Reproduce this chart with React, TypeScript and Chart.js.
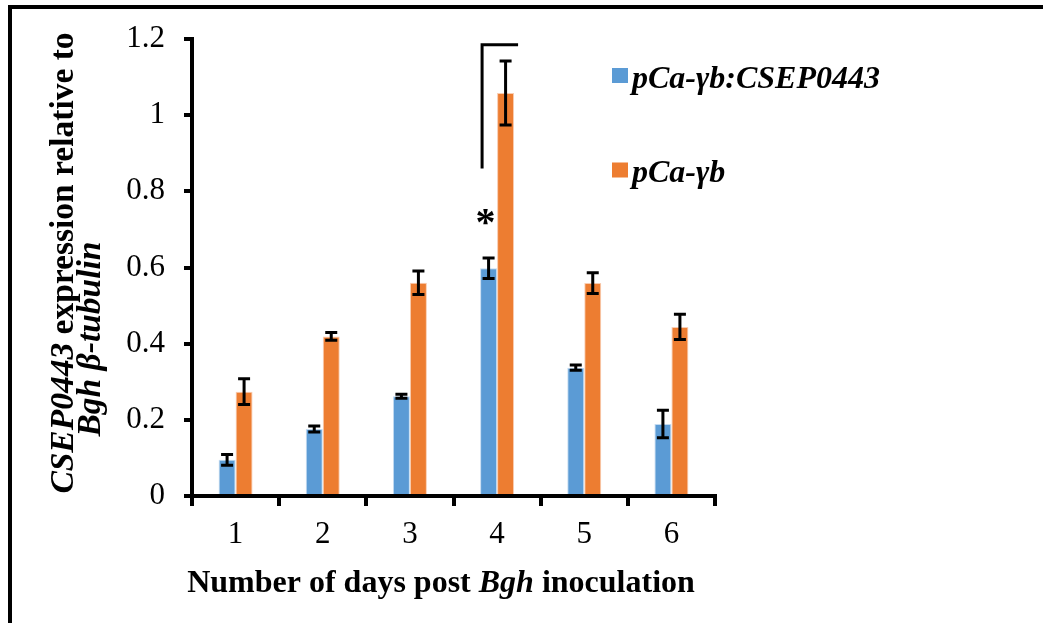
import { useEffect, useRef } from 'react';
import { Chart, registerables } from 'chart.js';

Chart.register(...registerables);

const categories = ['1', '2', '3', '4', '5', '6'];
const seriesNames = ['pCa-γb:CSEP0443', 'pCa-γb'];
const csepValues = [0.095, 0.176, 0.262, 0.598, 0.337, 0.189];
const csepErrors = [0.014, 0.008, 0.005, 0.027, 0.007, 0.036];
const controlValues = [0.274, 0.419, 0.56, 1.058, 0.559, 0.444];
const controlErrors = [0.034, 0.01, 0.031, 0.084, 0.027, 0.033];
const yTicks = [0, 0.2, 0.4, 0.6, 0.8, 1, 1.2];
const bracketRange = [0.86, 1.185];
const starValue = 0.732;

const SERIF = '"Liberation Serif", "Times New Roman", serif';
const BLUE = '#5B9BD5';
const ORANGE = '#ED7D31';

type Seg = { text: string; font: string };

function drawSegments(ctx: CanvasRenderingContext2D, segs: Seg[], cx: number, baseline: number) {
  let total = 0;
  const widths = segs.map((s) => {
    ctx.font = s.font;
    const w = ctx.measureText(s.text).width;
    total += w;
    return w;
  });
  let x = cx - total / 2;
  ctx.textAlign = 'left';
  ctx.textBaseline = 'alphabetic';
  segs.forEach((s, i) => {
    ctx.font = s.font;
    ctx.fillText(s.text, x, baseline);
    x += widths[i];
  });
}

const decorPlugin = {
  id: 'decor',
  beforeDraw(chart: any) {
    const ctx = chart.ctx as CanvasRenderingContext2D;
    ctx.save();
    ctx.fillStyle = '#fff';
    ctx.fillRect(0, 0, chart.width, chart.height);
    ctx.restore();
  },
  afterDatasetsDraw(chart: any) {
    const ctx = chart.ctx as CanvasRenderingContext2D;
    const yScale = chart.scales.y;
    const errs = [csepErrors, controlErrors];
    ctx.save();
    ctx.strokeStyle = '#000';
    ctx.lineWidth = 3;
    ctx.lineCap = 'butt';
    chart.data.datasets.forEach((ds: any, di: number) => {
      const meta = chart.getDatasetMeta(di);
      meta.data.forEach((bar: any, i: number) => {
        const v = ds.data[i];
        const e = errs[di][i];
        const yt = yScale.getPixelForValue(v + e);
        const yb = yScale.getPixelForValue(v - e);
        const x = bar.x;
        ctx.beginPath();
        ctx.moveTo(x, yt);
        ctx.lineTo(x, yb);
        ctx.moveTo(x - 6, yt);
        ctx.lineTo(x + 6, yt);
        ctx.moveTo(x - 6, yb);
        ctx.lineTo(x + 6, yb);
        ctx.stroke();
      });
    });

    // significance bracket on day 4
    const b0 = chart.getDatasetMeta(0).data[3];
    const b1 = chart.getDatasetMeta(1).data[3];
    const xl = b0.x - b0.width / 2 + 2;
    const xr = b1.x + b1.width / 2 + 4;
    const yTop = yScale.getPixelForValue(bracketRange[1]);
    const yBot = yScale.getPixelForValue(bracketRange[0]);
    ctx.lineWidth = 3;
    ctx.beginPath();
    ctx.moveTo(xl, yBot);
    ctx.lineTo(xl, yTop);
    ctx.lineTo(xr, yTop);
    ctx.stroke();

    // asterisk
    ctx.fillStyle = '#000';
    ctx.font = `bold 40px ${SERIF}`;
    const m = ctx.measureText('*');
    const cy = yScale.getPixelForValue(starValue);
    ctx.textAlign = 'center';
    ctx.textBaseline = 'alphabetic';
    ctx.fillText('*', b0.x - 3, cy + (m.actualBoundingBoxAscent - m.actualBoundingBoxDescent) / 2);
    ctx.restore();
  },
  afterDraw(chart: any) {
    const ctx = chart.ctx as CanvasRenderingContext2D;
    ctx.save();
    // frame
    ctx.strokeStyle = '#000';
    ctx.lineWidth = 4;
    ctx.beginPath();
    ctx.moveTo(10, 623);
    ctx.lineTo(10, 7);
    ctx.lineTo(1043, 7);
    ctx.stroke();

    ctx.fillStyle = '#000';
    // legend
    const colors = [BLUE, ORANGE];
    const rows = [75.5, 170];
    seriesNames.forEach((name, i) => {
      ctx.fillStyle = colors[i];
      ctx.fillRect(612, rows[i] - 7.5, 16, 15);
      ctx.fillStyle = '#000';
      ctx.font = `italic bold 32px ${SERIF}`;
      ctx.textAlign = 'left';
      ctx.textBaseline = 'alphabetic';
      ctx.fillText(name, 632, rows[i] + 12);
    });

    // x title
    const b = `bold 32px ${SERIF}`;
    const bi = `italic bold 32px ${SERIF}`;
    drawSegments(
      ctx,
      [
        { text: 'Number of days post ', font: b },
        { text: 'Bgh', font: bi },
        { text: ' inoculation', font: b },
      ],
      441,
      592
    );

    // y title
    const yb = `bold 33.5px ${SERIF}`;
    const ybi = `italic bold 33.5px ${SERIF}`;
    ctx.save();
    ctx.translate(73, 263);
    ctx.rotate(-Math.PI / 2);
    drawSegments(
      ctx,
      [
        { text: 'CSEP0443', font: ybi },
        { text: ' expression relative to', font: yb },
      ],
      0,
      0
    );
    ctx.restore();
    ctx.save();
    ctx.translate(100, 339);
    ctx.rotate(-Math.PI / 2);
    drawSegments(ctx, [{ text: 'Bgh β-tubulin', font: ybi }], 0, 0);
    ctx.restore();

    ctx.restore();
  },
};

export default function App() {
  const ref = useRef<HTMLCanvasElement | null>(null);

  useEffect(() => {
    if (!ref.current) return;
    const chart = new Chart(ref.current, {
      type: 'bar',
      data: {
        labels: categories,
        datasets: [
          {
            label: seriesNames[0],
            data: csepValues,
            backgroundColor: BLUE,
            borderColor: 'rgba(190,215,240,0.9)',
            borderWidth: 1,
            categoryPercentage: 0.39,
            barPercentage: 1.0,
          },
          {
            label: seriesNames[1],
            data: controlValues,
            backgroundColor: ORANGE,
            borderColor: 'rgba(248,200,170,0.9)',
            borderWidth: 1,
            categoryPercentage: 0.39,
            barPercentage: 1.0,
          },
        ],
      },
      options: {
        responsive: false,
        animation: false,
        devicePixelRatio: 1,
        layout: { padding: { left: 0, right: 328, top: 39, bottom: 0 } },
        plugins: {
          legend: { display: false },
          tooltip: { enabled: false },
          title: { display: false },
        },
        scales: {
          x: {
            type: 'category',
            grid: {
              display: true,
              drawOnChartArea: false,
              drawTicks: true,
              tickLength: 10,
              color: '#000',
              lineWidth: 4,
              offset: true,
            },
            border: { display: true, color: '#000', width: 4 },
            ticks: {
              color: '#000',
              font: { family: SERIF, size: 31 },
              padding: 10,
            },
            afterFit: (s: any) => {
              s.height = 127;
            },
          },
          y: {
            min: 0,
            max: 1.2,
            afterBuildTicks: (s: any) => {
              s.ticks = yTicks.map((v) => ({ value: v }));
            },
            grid: {
              display: true,
              drawOnChartArea: false,
              drawTicks: true,
              tickLength: 8,
              color: '#000',
              lineWidth: 4,
            },
            border: { display: true, color: '#000', width: 4 },
            ticks: {
              color: '#000',
              font: { family: SERIF, size: 31 },
              padding: 19,
              callback: (v: any) => String(Math.round(Number(v) * 10) / 10),
            },
            afterFit: (s: any) => {
              s.width = 192;
            },
          },
        },
      },
      plugins: [decorPlugin],
    });
    return () => chart.destroy();
  }, []);

  return (
    <div style={{ position: 'fixed', left: 0, top: 0, width: 1043, height: 623, background: '#fff' }}>
      <canvas ref={ref} width={1043} height={623} style={{ display: 'block', width: 1043, height: 623 }} />
    </div>
  );
}
